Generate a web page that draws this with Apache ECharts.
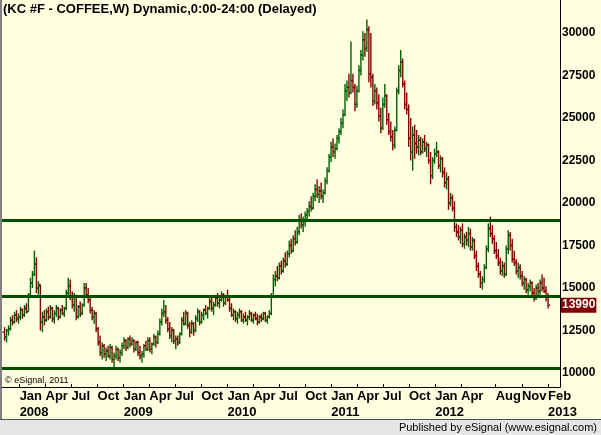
<!DOCTYPE html>
<html>
<head>
<meta charset="utf-8">
<script src="https://cdn.jsdelivr.net/npm/echarts@6/dist/echarts.min.js"></script>
<style>
  html, body { margin: 0; padding: 0; background: #FFFFE0; }
  #container { width: 601px; height: 435px; }
</style>
</head>
<body>
<div id="container"></div>
<script>
let dom = document.getElementById("container");
let myChart = echarts.init(dom);
let option;

// weekly bars, prices in cents/lb (chart shows x100)
const firstWeek = Date.UTC(2007, 10, 9);
const opens = [
    124,121,125,126,131,130,134,132,133,137, 134,138,136,146,153,158,164,150,151,130,
    133,131,136,133,138,132,135,138,133,137, 135,138,147,151,145,140,145,133,139,135,
    140,150,146,143,137,133,135,126,118,112, 116,111,113,110,115,108,110,114,109,112,
    116,119,115,120,117,119,114,118,112,110, 111,116,114,119,114,117,121,118,123,130,
    135,136,131,126,122,125,119,120,118,123, 131,129,135,128,124,129,125,132,136,130,
    134,137,135,138,142,138,140,144,141,143, 146,141,145,143,138,134,136,132,134,136,
    131,133,131,133,135,131,134,132,130,133, 132,135,131,133,135,145,155,157,156,163,
    160,166,164,170,175,172,179,177,183,190, 187,189,193,195,198,197,204,208,205,207,
    204,206,213,219,227,233,230,232,238,242, 247,252,266,268,265,272,268,258,266,278,
    287,296,291,302,276,274,260,266,259,251, 244,258,263,249,242,239,234,243,266,278,
    283,270,258,255,238,230,240,235,233,237, 230,236,232,234,225,216,225,229,230,222,
    226,218,212,214,200,203,197,186,183,180, 184,176,180,178,182,174,178,169,163,158,
    153,155,162,173,185,182,179,172,169,165, 160,163,158,173,181,175,167,165,160,162,
    157,153,155,149,151,153,147,144,150,148, 153,150,148,145
];
const highs = [
    127,126,128,133,134,136,137,135,139,138, 140,141,147,156,160,172,168,154,152,136,
    137,138,139,140,139,137,140,139,138,140, 139,149,156,155,148,147,146,140,142,141,
    153,153,150,144,139,137,136,127,122,118, 117,115,116,117,116,112,116,115,114,118,
    121,120,121,122,121,120,119,119,116,113, 117,119,121,121,118,123,122,125,132,138,
    143,140,133,130,127,126,122,122,124,133, 136,137,136,130,131,130,134,138,137,136,
    138,140,139,144,145,142,146,147,145,148, 147,146,149,145,141,138,137,136,138,137,
    135,136,134,137,136,135,136,135,134,135, 136,136,134,137,147,158,160,163,165,166,
    168,171,172,178,179,181,184,186,193,194, 192,195,197,201,204,206,211,214,210,212,
    208,215,221,229,236,238,235,240,244,250, 255,270,272,276,295,276,270,269,281,290,
    301,300,308,304,300,276,270,268,264,256, 262,270,264,253,248,243,245,268,281,290,
    285,272,265,258,250,245,246,243,240,239, 238,240,236,235,230,227,232,236,231,228,
    227,221,218,216,206,205,201,188,187,186, 188,182,183,186,185,180,179,172,165,160,
    157,164,175,188,192,187,181,177,173,168, 166,165,175,184,183,179,172,167,165,164,
    160,157,156,153,155,154,150,152,153,155, 158,156,151,147
];
const lows = [
    119,118,122,125,128,129,130,129,131,132, 133,135,136,145,150,157,147,146,125,124,
    128,130,131,132,130,129,133,131,132,134, 133,137,145,143,138,136,131,132,133,134,
    139,144,141,135,131,129,124,116,110,108, 109,107,109,108,106,103,108,107,106,110,
    114,113,114,115,116,112,113,110,108,106, 109,113,113,112,111,116,115,117,122,128,
    133,129,124,120,118,117,114,116,117,122, 128,128,126,121,123,122,124,130,128,129,
    131,134,132,137,136,134,139,139,138,142, 139,140,142,136,133,131,130,129,132,130,
    129,130,128,131,130,129,131,128,129,130, 131,130,129,132,134,144,151,154,155,158,
    159,162,163,168,170,171,175,176,181,185, 183,186,190,192,195,196,201,203,200,202,
    200,205,211,218,224,227,226,231,235,240, 244,251,260,262,264,265,254,256,265,275,
    284,286,289,271,268,257,258,255,248,241, 243,256,246,240,236,231,232,242,264,274,
    268,255,252,233,225,219,226,229,228,228, 229,230,227,223,211,214,223,227,220,218,
    215,209,208,196,198,195,183,180,178,176, 174,173,175,174,172,172,167,160,156,150,
    149,153,161,171,180,176,170,167,163,158, 157,156,157,170,172,165,163,158,156,155,
    151,149,147,146,148,145,142,143,145,146, 148,147,142,138
];
const closes = [
    121,125,126,131,130,134,132,133,137,134, 138,136,146,153,158,164,150,152,130,133,
    131,136,133,138,132,135,138,133,137,135, 138,147,151,145,140,145,133,139,135,140,
    150,146,143,137,133,135,126,118,112,116, 111,113,110,115,108,110,114,109,112,116,
    119,115,120,117,119,114,118,112,110,111, 116,114,119,114,117,121,118,123,130,135,
    136,131,126,122,125,119,120,118,123,131, 129,135,128,124,129,125,132,136,130,134,
    137,135,138,142,138,140,144,141,143,146, 141,145,143,138,134,136,132,134,136,131,
    133,131,133,135,131,134,132,130,133,132, 135,131,133,135,145,155,157,156,163,160,
    166,164,170,175,172,179,177,183,190,187, 189,193,195,198,197,204,208,205,207,204,
    206,213,219,227,233,230,232,238,242,247, 252,266,268,265,272,268,258,266,278,287,
    296,291,302,276,274,260,266,259,251,244, 258,263,249,242,239,234,243,266,278,283,
    270,258,255,238,230,240,235,233,237,230, 236,232,234,225,216,225,229,230,222,226,
    218,212,214,200,203,197,186,183,180,184, 176,180,178,182,174,178,169,163,158,153,
    155,162,173,185,182,179,172,169,165,160, 163,158,173,181,175,167,165,160,162,157,
    153,155,149,151,153,147,144,150,148,153, 150,148,145,139.9
];

const supportLevels = [19000, 14500, 10250];
const lastPrice = 13990;
const priceTicks = [10000, 12500, 15000, 17500, 20000, 22500, 25000, 27500, 30000];
const tickDates = [
    '2008-01-01','2008-04-01','2008-07-01','2008-10-01',
    '2009-01-01','2009-04-01','2009-07-01','2009-10-01',
    '2010-01-01','2010-04-01','2010-07-01','2010-10-01',
    '2011-01-01','2011-04-01','2011-07-01','2011-10-01',
    '2012-01-01','2012-04-01','2012-08-01','2012-11-01','2013-02-01'
];
const tickLabels = [
    'Jan','Apr','Jul','Oct', 'Jan','Apr','Jul','Oct',
    'Jan','Apr','Jul','Oct', 'Jan','Apr','Jul','Oct',
    'Jan','Apr','Aug','Nov','Feb'
];
const yearDates = ['2008-01-01','2009-01-01','2010-01-01','2011-01-01','2012-01-01','2013-02-01'];
const yearLabels = ['2008','2009','2010','2011','2012','2013'];

const upColor = '#006000';
const downColor = '#880000';
const fontFamily = 'Liberation Sans, Arial, sans-serif';

function toTime(d) { return new Date(d + 'T00:00:00Z').getTime(); }
let tickTimes = tickDates.map(toTime);
let yearTimes = yearDates.map(toTime);
let labelByTime = {};
tickTimes.forEach((t, i) => { labelByTime[t] = tickLabels[i]; });
let yearByTime = {};
yearTimes.forEach((t, i) => { yearByTime[t] = yearLabels[i]; });

let barData = closes.map((c, i) => [
    firstWeek + i * 7 * 86400000,
    opens[i] * 100, highs[i] * 100, lows[i] * 100, c * 100
]);

function renderBar(params, api) {
    let t = api.value(0);
    let o = api.coord([t, api.value(1)]);
    let h = api.coord([t, api.value(2)]);
    let l = api.coord([t, api.value(3)]);
    let c = api.coord([t, api.value(4)]);
    let color = api.value(4) >= api.value(1) ? upColor : downColor;
    let x = o[0];
    let top = h[1];
    let bottom = Math.max(l[1], top + 1);
    return {
        type: 'group',
        children: [
            {type: 'rect', shape: {x: x - 0.7, y: top, width: 1.4, height: bottom - top}, style: {fill: color}},
            {type: 'rect', shape: {x: x - 2, y: o[1] - 0.8, width: 1.4, height: 1.6}, style: {fill: color}},
            {type: 'rect', shape: {x: x + 0.6, y: c[1] - 0.8, width: 1.4, height: 1.6}, style: {fill: color}}
        ]
    };
}

let levelLines = supportLevels.map(v => ({
    yAxis: v,
    lineStyle: {color: '#005000', width: 3, type: 'solid'},
    label: {show: false}
}));
levelLines.push({
    yAxis: lastPrice,
    lineStyle: {color: 'rgba(0,0,0,0)', width: 1, type: 'solid'},
    label: {
        show: true,
        position: 'end',
        distance: 1,
        formatter: String(lastPrice),
        color: '#ffffff',
        backgroundColor: '#800000',
        fontFamily: fontFamily,
        fontSize: 12,
        fontWeight: 'bold',
        padding: [2, 1, 1, 1]
    }
});

const xMin = Date.UTC(2007, 9, 31);
const xMax = Date.UTC(2013, 2, 15);
const labelFont = {fontFamily: fontFamily, fontSize: 13, fontWeight: 'bold', color: '#000'};

option = {
    backgroundColor: '#FFFFE0',
    animation: false,
    title: {
        text: '(KC #F - COFFEE,W) Dynamic,0:00-24:00 (Delayed)',
        left: 3,
        top: 3,
        padding: 0,
        textStyle: {fontFamily: fontFamily, fontSize: 13, fontWeight: 'bold', color: '#000'}
    },
    grid: {left: 2, right: 41, top: 0, bottom: 48},
    xAxis: [{
        type: 'value',
        min: xMin,
        max: xMax,
        splitLine: {show: false},
        axisLine: {lineStyle: {color: '#000', width: 1}},
        axisTick: {show: true, inside: true, length: 3, customValues: tickTimes, lineStyle: {color: '#000'}},
        axisLabel: Object.assign({
            customValues: tickTimes,
            formatter: function (v) { return labelByTime[v] || ''; },
            hideOverlap: false,
            align: 'left',
            margin: 3
        }, labelFont)
    }, {
        type: 'value',
        position: 'bottom',
        min: xMin,
        max: xMax,
        splitLine: {show: false},
        axisLine: {show: false},
        axisTick: {show: false},
        axisLabel: Object.assign({
            customValues: yearTimes,
            formatter: function (v) { return yearByTime[v] || ''; },
            hideOverlap: false,
            align: 'left',
            margin: 19
        }, labelFont)
    }],
    yAxis: {
        type: 'value',
        position: 'right',
        min: 9176,
        max: 31941,
        splitLine: {show: false},
        axisLine: {show: true, lineStyle: {color: '#000', width: 1}},
        axisTick: {show: false},
        axisLabel: {
            customValues: priceTicks,
            formatter: function (v) { return String(v); },
            margin: 2,
            fontFamily: fontFamily,
            fontSize: 12,
            fontWeight: 'bold',
            color: '#000'
        }
    },
    graphic: [
        {type: 'rect', left: 0, top: 0, shape: {width: 2, height: 420}, style: {fill: '#808080'}, silent: true},
        {type: 'rect', left: 0, top: 419, shape: {width: 601, height: 16}, style: {fill: '#E6E6E6'}, silent: true},
        {type: 'rect', left: 0, top: 419, shape: {width: 601, height: 1}, style: {fill: '#505050'}, silent: true},
        {type: 'text', left: 5, top: 376, style: {text: '\u00A9 eSignal, 2011', font: '9px ' + fontFamily, fill: '#000'}, silent: true},
        {type: 'text', right: 4, top: 422, style: {text: 'Published by eSignal (www.esignal.com)', font: '11px ' + fontFamily, fill: '#000'}, silent: true}
    ],
    series: [
        {
            type: 'custom',
            renderItem: renderBar,
            encode: {x: 0, y: [1, 2, 3, 4]},
            data: barData,
            clip: true
        },
        {
            type: 'line',
            data: [],
            silent: true,
            markLine: {
                silent: true,
                symbol: ['none', 'none'],
                data: levelLines
            }
        }
    ]
};

if (option && typeof option === "object") {
    myChart.setOption(option, true);
}
</script>
</body>
</html>
